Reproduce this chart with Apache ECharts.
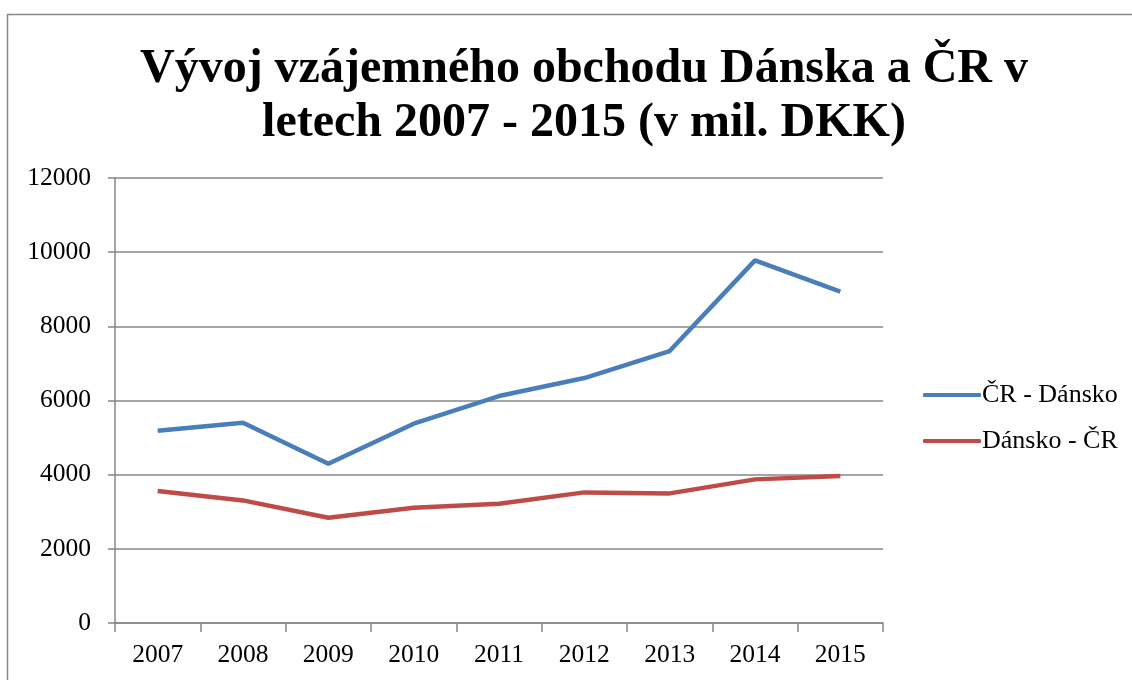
<!DOCTYPE html>
<html>
<head>
<meta charset="utf-8">
<script src="https://cdn.jsdelivr.net/npm/echarts@6/dist/echarts.min.js"></script>
<style>
	html, body { margin: 0; padding: 0; background: #fff; }
	#chart { width: 1132px; height: 680px; }
</style>
</head>
<body>
<div id="chart"></div>
<script>
// roky
var years = ['2007', '2008', '2009', '2010', '2011', '2012', '2013', '2014', '2015'];
// vyvoz CR -> Dansko (mil. DKK)
var crDansko = [5186, 5402, 4296, 5375, 6120, 6605, 7333, 9779, 8935];
// vyvoz Dansko -> CR
var danskoCr = [3557, 3306, 2840, 3109, 3217, 3522, 3495, 3873, 3962];
var seriesNames = ['ČR - Dánsko', 'Dánsko - ČR'];
var yTicks = [0, 2000, 4000, 6000, 8000, 10000, 12000];

var font = '"Liberation Serif", "DejaVu Serif", serif';
var gray = '#878787';

var myChart = echarts.init(document.getElementById('chart'));

var option = {
	backgroundColor: '#fff',
	animation: false,
	graphic: [{
		type: 'rect',
		shape: { x: 7.5, y: 14.5, width: 1200, height: 700 },
		style: { fill: 'none', stroke: gray, lineWidth: 1.5 },
		silent: true
	}],
	title: {
		text: 'Vývoj vzájemného obchodu Dánska a ČR v\nletech 2007 - 2015 (v mil. DKK)',
		left: 579,
		top: 38,
		textAlign: 'center',
		textStyle: {
			fontFamily: font,
			fontWeight: 'bold',
			fontSize: 48,
			lineHeight: 54,
			color: '#000'
		}
	},
	legend: {
		orient: 'vertical',
		left: 918,
		top: 377,
		itemWidth: 58,
		itemHeight: 4,
		itemGap: 20,
		icon: 'roundRect',
		data: seriesNames,
		textStyle: { fontFamily: font, fontSize: 26, color: '#000', padding: [0, 0, 0, -4] }
	},
	grid: {
		left: 115,
		right: 249,
		top: 178,
		bottom: 57,
		containLabel: false
	},
	xAxis: {
		type: 'category',
		boundaryGap: true,
		data: years,
		axisLine: { lineStyle: { color: gray, width: 1.5 } },
		axisTick: { show: true, length: 9, lineStyle: { color: gray, width: 1.5 } },
		axisLabel: { fontFamily: font, fontSize: 25.5, color: '#000', margin: 19 }
	},
	yAxis: {
		type: 'value',
		min: yTicks[0],
		max: yTicks[yTicks.length - 1],
		interval: 2000,
		axisLine: { show: true, lineStyle: { color: gray, width: 1.5 } },
		axisTick: { show: true, length: 7, lineStyle: { color: gray, width: 1.5 } },
		axisLabel: {
			fontFamily: font, fontSize: 25.5, color: '#000', margin: 24,
			formatter: function(v) { return String(v); }
		},
		splitLine: { lineStyle: { color: gray, width: 1.5 } }
	},
	series: [{
		name: seriesNames[0],
		type: 'line',
		data: crDansko,
		symbol: 'none',
		color: '#4a7ebb',
		lineStyle: { width: 4.5, color: '#4a7ebb' }
	}, {
		name: seriesNames[1],
		type: 'line',
		data: danskoCr,
		symbol: 'none',
		color: '#be4b48',
		lineStyle: { width: 4.5, color: '#be4b48' }
	}]
};

myChart.setOption(option);
</script>
</body>
</html>
